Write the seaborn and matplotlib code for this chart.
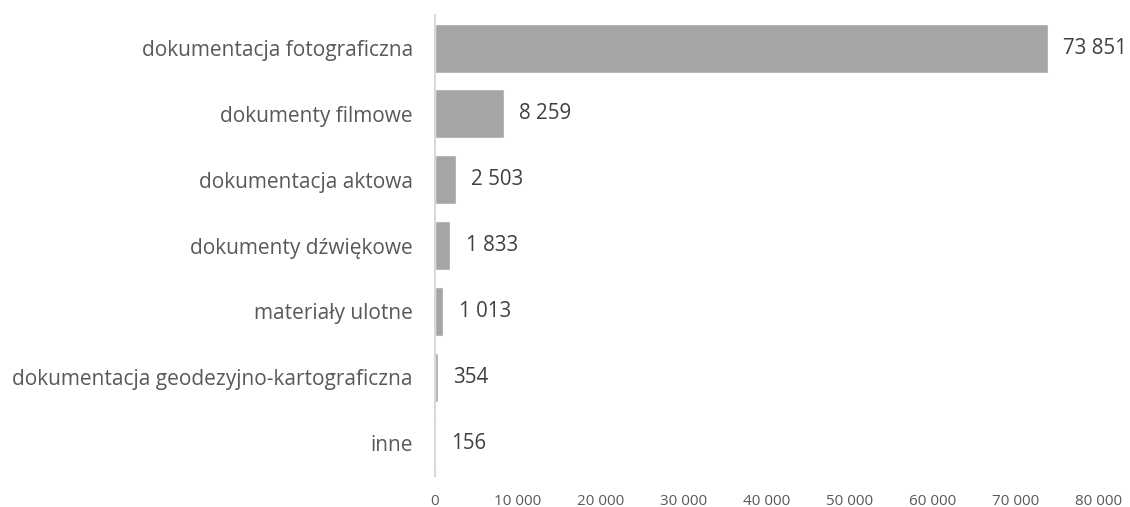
import matplotlib
matplotlib.use("Agg")
import matplotlib.pyplot as plt
import matplotlib.ticker as mticker
import pandas as pd
import seaborn as sns

categories = [
    "dokumentacja fotograficzna",
    "dokumenty filmowe",
    "dokumentacja aktowa",
    "dokumenty dźwiękowe",
    "materiały ulotne",
    "dokumentacja geodezyjno-kartograficzna",
    "inne",
]
counts = [73851, 8259, 2503, 1833, 1013, 354, 156]
x_ticks = [0, 10000, 20000, 30000, 40000, 50000, 60000, 70000, 80000]


def space_fmt(v):
    return f"{int(round(v)):,}".replace(",", " ")


df = pd.DataFrame({"kategoria": categories, "liczba": counts})

sns.set_style("white")
plt.rcParams["font.family"] = ["Open Sans", "DejaVu Sans"]

fig = plt.figure(figsize=(11.3, 5.07), dpi=100)
ax = fig.add_axes([0.385, 0.061, 0.5876, 0.909])

sns.barplot(data=df, x="liczba", y="kategoria", color="#A5A5A5",
            saturation=1, width=0.745, ax=ax, orient="h")

ax.bar_label(ax.containers[0], labels=[space_fmt(v) for v in counts],
             padding=11, fontsize=14.8, color="#404040")

ax.set_xlim(0, 80000)
ax.set_xticks(x_ticks)
ax.xaxis.set_major_formatter(mticker.FuncFormatter(lambda v, p: space_fmt(v)))
ax.set_xlabel("")
ax.set_ylabel("")
ax.tick_params(axis="x", length=0, labelsize=11, labelcolor="#595959", pad=13)
ax.tick_params(axis="y", length=0, labelsize=15, labelcolor="#595959", pad=16)

for side in ["top", "right", "bottom"]:
    ax.spines[side].set_visible(False)
ax.spines["left"].set_color("#D9D9D9")
ax.spines["left"].set_linewidth(1.5)

fig.savefig("out.png", dpi=100)
